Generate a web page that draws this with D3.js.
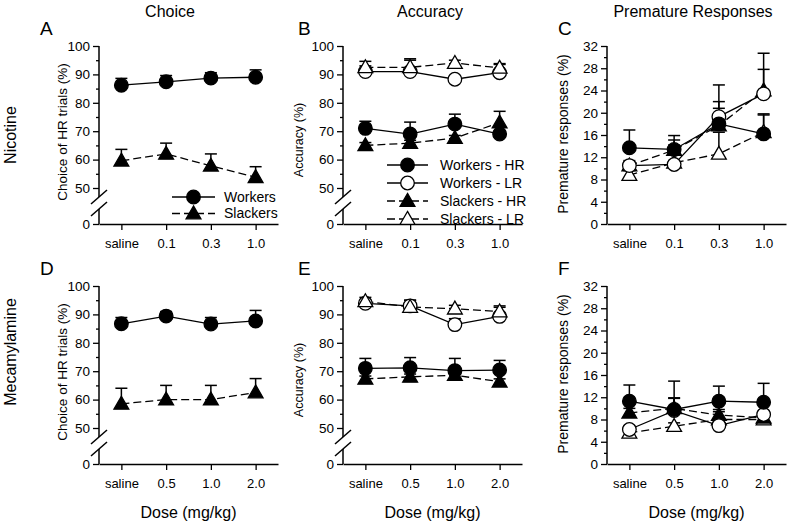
<!DOCTYPE html>
<html><head><meta charset="utf-8">
<script src="https://cdn.jsdelivr.net/npm/d3@7"></script>
<style>
body{margin:0;background:#fff;}
svg text{font-family:"Liberation Sans",Arial,sans-serif;fill:#000;}
</style></head>
<body><svg id="c" width="789" height="524"></svg>
<script>
// ---------- data ----------
const dosesNic = ["saline","0.1","0.3","1.0"];
const dosesMec = ["saline","0.5","1.0","2.0"];
const colTitles = ["Choice","Accuracy","Premature Responses"];
const rowTitles = ["Nicotine","Mecamylamine"];
const panelLetters = ["A","B","C","D","E","F"];
const yLabels = ["Choice of HR trials (%)","Accuracy (%)","Premature responses (%)"];
const xLabel = "Dose (mg/kg)";
const breakTicks = [0,50,60,70,80,90,100];
const breakMinor = [55,65,75,85,95];
const premTicks = [0,4,8,12,16,20,24,28,32];
const premMinor = [2,6,10,14,18,22,26,30];

// Panel A (choice, nicotine): value / error-bar end
const A_workers = [86.2, 87.4, 88.7, 89.0];
const A_workersErr = [88.6, 89.6, 90.6, 91.6];
const A_slackers = [59.6, 62.0, 57.8, 53.8];
const A_slackersErr = [63.6, 65.8, 62.0, 57.5];
// Panel D (choice, mecamylamine)
const D_workers = [86.7, 89.4, 86.6, 87.7];
const D_workersErr = [88.9, 91.0, 88.9, 91.4];
const D_slackers = [58.5, 60.0, 60.0, 62.5];
const D_slackersErr = [64.0, 65.0, 65.0, 67.4];
// Panel B (accuracy, nicotine)
const B_wHR = [71.0, 69.0, 72.5, 69.0];
const B_wHRErr = [73.5, 73.2, 76.0, 70.0];
const B_wLR = [91.0, 91.0, 88.3, 90.6];
const B_wLRErr = [93.0, 95.5, 89.0, 93.5];
const B_sHR = [65.0, 65.8, 67.6, 73.0];
const B_sHRErr = [66.0, 66.8, 68.5, 77.0];
const B_sLR = [92.5, 92.5, 94.0, 92.3];
const B_sLRErr = [94.6, 95.0, 95.0, 93.8];
// Panel E (accuracy, mecamylamine)
const E_wHR = [71.0, 71.2, 70.2, 70.4];
const E_wHRErr = [74.5, 74.8, 74.5, 73.8];
const E_wLR = [93.9, 93.0, 86.4, 89.3];
const E_wLRErr = [95.0, 95.0, 88.5, 92.5];
const E_sHR = [67.3, 68.0, 68.6, 66.3];
const E_sHRErr = [68.3, 69.0, 69.6, 67.3];
const E_sLR = [94.6, 92.6, 92.0, 91.0];
const E_sLRErr = [96.0, 95.0, 93.2, 93.0];
// Panel C (premature, nicotine)
const C_wHR = [13.7, 13.4, 18.0, 16.2];
const C_wHRErr = [16.9, 15.9, 22.0, 19.6];
const C_wLR = [10.5, 10.7, 19.3, 23.4];
const C_wLRErr = [11.2, 11.4, 25.0, 30.7];
const C_sHR = [10.5, 13.3, 17.7, 24.0];
const C_sHRErr = [11.4, 15.1, 20.8, 27.8];
const C_sLR = [8.8, 11.0, 12.6, 16.5];
const C_sLRErr = [9.6, 14.2, 16.5, 19.8];
// Panel F (premature, mecamylamine)
const F_wHR = [11.3, 9.8, 11.3, 11.1];
const F_wHRErr = [14.2, 14.9, 14.0, 14.5];
const F_wLR = [6.2, 9.6, 6.9, 8.9];
const F_wLRErr = [6.9, 11.9, 7.5, 9.6];
const F_sHR = [9.2, 10.0, 8.8, 8.3];
const F_sHRErr = [10.0, 11.8, 9.8, 9.0];
const F_sLR = [5.6, 6.8, 8.0, 8.0];
const F_sLRErr = [6.2, 7.4, 9.4, 8.6];

// ---------- layout ----------
const svg = d3.select("#c");
const colX = [[99,278],[343,522],[607,786]];
const rowY = [{top:46,mid:188,bottom:224},{top:286,mid:428,bottom:464}];

const styles = {
  wHR:{shape:"circle",fill:"#000",dash:null},
  wLR:{shape:"circle",fill:"#fff",dash:null},
  sHR:{shape:"triangle",fill:"#000",dash:"8,4"},
  sLR:{shape:"triangle",fill:"#fff",dash:"8,4"}
};

const panels = [
  {col:0,row:0,doses:dosesNic,type:"break",series:[
    {st:"wHR",v:A_workers,e:A_workersErr},{st:"sHR",v:A_slackers,e:A_slackersErr}],
    legend:[["wHR","Workers"],["sHR","Slackers"]]},
  {col:1,row:0,doses:dosesNic,type:"break",series:[
    {st:"wLR",v:B_wLR,e:B_wLRErr},{st:"sLR",v:B_sLR,e:B_sLRErr},
    {st:"wHR",v:B_wHR,e:B_wHRErr},{st:"sHR",v:B_sHR,e:B_sHRErr}],
    legend:[["wHR","Workers - HR"],["wLR","Workers - LR"],["sHR","Slackers - HR"],["sLR","Slackers - LR"]]},
  {col:2,row:0,doses:dosesNic,type:"prem",series:[
    {st:"sLR",v:C_sLR,e:C_sLRErr},{st:"sHR",v:C_sHR,e:C_sHRErr},
    {st:"wLR",v:C_wLR,e:C_wLRErr},{st:"wHR",v:C_wHR,e:C_wHRErr}]},
  {col:0,row:1,doses:dosesMec,type:"break",series:[
    {st:"wHR",v:D_workers,e:D_workersErr},{st:"sHR",v:D_slackers,e:D_slackersErr}]},
  {col:1,row:1,doses:dosesMec,type:"break",series:[
    {st:"wLR",v:E_wLR,e:E_wLRErr},{st:"sLR",v:E_sLR,e:E_sLRErr},
    {st:"sHR",v:E_sHR,e:E_sHRErr},{st:"wHR",v:E_wHR,e:E_wHRErr}]},
  {col:2,row:1,doses:dosesMec,type:"prem",series:[
    {st:"sLR",v:F_sLR,e:F_sLRErr},{st:"sHR",v:F_sHR,e:F_sHRErr},
    {st:"wLR",v:F_wLR,e:F_wLRErr},{st:"wHR",v:F_wHR,e:F_wHRErr}]}
];

const yLabelX = [67,303,568];
const yLabelSize = [13.5,12.5,14];
const letterX = [40,298,558];

function marker(g, st, x, y){
  const s = styles[st];
  if (s.shape==="circle"){
    g.append("circle").attr("cx",x).attr("cy",y).attr("r",6.8)
      .attr("fill",s.fill).attr("stroke","#000").attr("stroke-width",1.3);
  } else {
    const sym = d3.symbol().type(d3.symbolTriangle).size(95);
    g.append("path").attr("d",sym()).attr("transform",`translate(${x},${y+1})`)
      .attr("fill",s.fill).attr("stroke","#000").attr("stroke-width",1.3);
  }
}

panels.forEach((p,i)=>{
  const [x0,x1] = colX[p.col];
  const ry = rowY[p.row];
  const g = svg.append("g");
  const x = d3.scalePoint().domain(p.doses).range([x0,x1]).padding(0.5);
  let y;
  if (p.type==="break") y = d3.scaleLinear().domain([0,50,100]).range([ry.bottom,ry.mid,ry.top]);
  else y = d3.scaleLinear().domain([0,32]).range([ry.bottom,ry.top]);

  // y axis
  const major = p.type==="break"?breakTicks:premTicks;
  const minor = p.type==="break"?breakMinor:premMinor;
  const ya = g.append("g").attr("transform",`translate(${x0},0)`)
    .call(d3.axisLeft(y).tickValues(major).tickSize(6).tickSizeOuter(0).tickPadding(3).tickFormat(d3.format("d")));
  ya.select(".domain").remove();
  ya.selectAll("text").attr("font-size",13.5).attr("font-family","Liberation Sans, Arial, sans-serif");
  ya.selectAll("line").attr("stroke-width",1.3);
  const ym = g.append("g").attr("transform",`translate(${x0},0)`)
    .call(d3.axisLeft(y).tickValues(minor).tickSize(3).tickFormat(""));
  ym.select(".domain").remove();
  ym.selectAll("line").attr("stroke-width",1.3);

  if (p.type==="break"){
    const gapTop = ry.mid + 9, gapBot = ry.mid + 21;
    g.append("line").attr("x1",x0).attr("x2",x0).attr("y1",ry.top).attr("y2",gapTop).attr("stroke","#000").attr("stroke-width",1.5);
    g.append("line").attr("x1",x0).attr("x2",x0).attr("y1",gapBot).attr("y2",ry.bottom).attr("stroke","#000").attr("stroke-width",1.5);
    [gapTop, gapBot].forEach(yy=>{
      g.append("line").attr("x1",x0-8).attr("x2",x0+8).attr("y1",yy+7).attr("y2",yy-7)
        .attr("stroke","#000").attr("stroke-width",1.5);
    });
  } else {
    g.append("line").attr("x1",x0).attr("x2",x0).attr("y1",ry.top).attr("y2",ry.bottom).attr("stroke","#000").attr("stroke-width",1.5);
  }

  // x axis
  const xa = g.append("g").attr("transform",`translate(0,${ry.bottom})`)
    .call(d3.axisBottom(x).tickSize(6).tickSizeOuter(0).tickPadding(9));
  xa.select(".domain").attr("stroke-width",1.5);
  xa.selectAll("line").attr("stroke-width",1.3);
  xa.selectAll("text").attr("font-size",13).attr("font-family","Liberation Sans, Arial, sans-serif");

  // y label
  const yc = p.type==="break" ? (p.col===0?132:140) : 134;
  g.append("text").attr("transform",`translate(${yLabelX[p.col]},${yc + (p.row?240:0)}) rotate(-90)`)
    .attr("text-anchor","middle").attr("font-size",yLabelSize[p.col]).text(yLabels[p.col]);

  // panel letter
  g.append("text").attr("x",letterX[p.col]).attr("y",ry.top-11).attr("font-size",19).text(panelLetters[i]);

  // lines
  p.series.forEach(s=>{
    const line = d3.line().x((d,k)=>x(p.doses[k])).y(d=>y(d));
    g.append("path").datum(s.v).attr("d",line).attr("fill","none").attr("stroke","#000")
      .attr("stroke-width",1.3).attr("stroke-dasharray",styles[s.st].dash);
  });
  // error bars
  p.series.forEach(s=>{
    s.v.forEach((v,k)=>{
      const cx = x(p.doses[k]);
      g.append("line").attr("x1",cx).attr("x2",cx).attr("y1",y(v)).attr("y2",y(s.e[k])).attr("stroke","#000").attr("stroke-width",1.5);
      g.append("line").attr("x1",cx-6).attr("x2",cx+6).attr("y1",y(s.e[k])).attr("y2",y(s.e[k])).attr("stroke","#000").attr("stroke-width",1.5);
    });
  });
  // markers
  p.series.forEach(s=>{
    s.v.forEach((v,k)=>marker(g,s.st,x(p.doses[k]),y(v)));
  });

  // legend
  if (p.legend){
    const lx0 = p.col===0?172:387, lx1 = p.col===0?215:428, tx = p.col===0?224:440;
    const ly0 = p.col===0?197:165, dy = p.col===0?16.5:18;
    p.legend.forEach((L,k)=>{
      const yy = ly0 + k*dy;
      g.append("line").attr("x1",lx0).attr("x2",lx1).attr("y1",yy).attr("y2",yy)
        .attr("stroke","#000").attr("stroke-width",1.3).attr("stroke-dasharray",styles[L[0]].dash);
      marker(g,L[0],(lx0+lx1)/2,yy);
      g.append("text").attr("x",tx).attr("y",yy).attr("dy","0.35em").attr("font-size",14).text(L[1]);
    });
  }
});

// column titles
const titleX = [170,430,693];
colTitles.forEach((t,i)=>svg.append("text").attr("x",titleX[i]).attr("y",17).attr("text-anchor","middle").attr("font-size",16).text(t));
// row titles
[135,352].forEach((yy,i)=>svg.append("text").attr("transform",`translate(16,${yy}) rotate(-90)`).attr("text-anchor","middle").attr("font-size",16).text(rowTitles[i]));
// x labels
colX.forEach(c=>svg.append("text").attr("x",(c[0]+c[1])/2).attr("y",518).attr("text-anchor","middle").attr("font-size",16).text(xLabel));
</script></body></html>
